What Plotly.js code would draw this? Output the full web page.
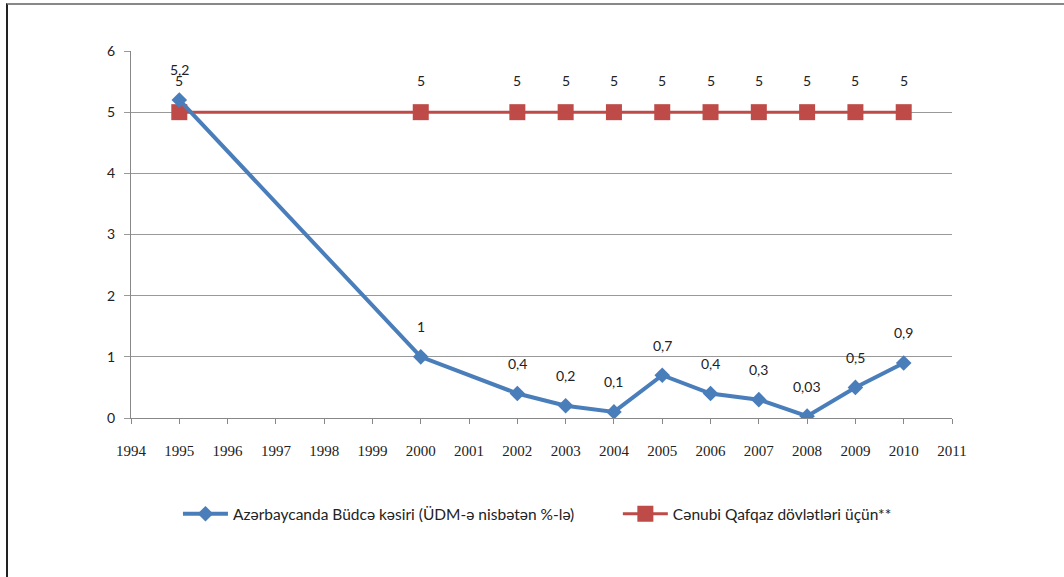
<!DOCTYPE html>
<html>
<head>
<meta charset="utf-8">
<script src="https://cdn.plot.ly/plotly-3.0.1.min.js"></script>
<style>
html,body{margin:0;padding:0;background:#fff;}
#wrap{position:relative;width:1064px;height:577px;}
#chart{width:1064px;height:577px;}
#frame{position:absolute;left:6px;top:3px;right:0;bottom:0;border-left:2px solid #222;border-top:2px solid #888;pointer-events:none;}
</style>
</head>
<body>
<div id="wrap"><div id="chart"></div><div id="frame"></div></div>
<script>
var years = [1995, 2000, 2002, 2003, 2004, 2005, 2006, 2007, 2008, 2009, 2010];
var deficitAz = [5.2, 1, 0.4, 0.2, 0.1, 0.7, 0.4, 0.3, 0.03, 0.5, 0.9];
var deficitAzLabels = ["5,2", "1", "0,4", "0,2", "0,1", "0,7", "0,4", "0,3", "0,03", "0,5", "0,9"];
var southCaucasus = [5, 5, 5, 5, 5, 5, 5, 5, 5, 5, 5];
var southCaucasusLabels = ["5", "5", "5", "5", "5", "5", "5", "5", "5", "5", "5"];
var xTicks = [1994, 1995, 1996, 1997, 1998, 1999, 2000, 2001, 2002, 2003, 2004, 2005, 2006, 2007, 2008, 2009, 2010, 2011];
var yTicks = [0, 1, 2, 3, 4, 5, 6];
var seriesNames = ["Azərbaycanda Büdcə kəsiri (ÜDM-ə nisbətən %-lə)", "Cənubi Qafqaz dövlətləri üçün**"];

var blue = '#4a7ebb', red = '#be4b48';

var traces = [
  {x: years, y: southCaucasus, name: seriesNames[1], type: 'scatter', mode: 'lines+markers', legend: 'legend2',
   line: {color: red, width: 3}, marker: {symbol: 'square', size: 16, color: red}},
  {x: years, y: deficitAz, name: seriesNames[0], type: 'scatter', mode: 'lines+markers', legend: 'legend',
   line: {color: blue, width: 4}, marker: {symbol: 'diamond', size: 12, color: blue}}
];

var annotations = [];
function addLabels(xs, ys, labels, shift) {
  for (var i = 0; i < xs.length; i++) {
    annotations.push({x: xs[i], y: ys[i], text: labels[i], showarrow: false, yshift: shift,
      font: {family: 'Lato, sans-serif', size: 14, color: '#222'}});
  }
}
addLabels(years, deficitAz, deficitAzLabels, 30);
addLabels(years, southCaucasus, southCaucasusLabels, 32);

var legendFont = {family: 'Lato, sans-serif', size: 15.5, color: '#222'};
var layout = {
  width: 1064, height: 577,
  margin: {l: 131, r: 112, t: 51, b: 159},
  paper_bgcolor: '#fff', plot_bgcolor: '#fff',
  showlegend: true,
  legend: {orientation: 'h', x: 0.0572, xanchor: 'left', y: -0.262, yanchor: 'middle',
    itemwidth: 45, font: legendFont},
  legend2: {orientation: 'h', x: 0.593, xanchor: 'left', y: -0.262, yanchor: 'middle',
    itemwidth: 45, font: legendFont},
  xaxis: {range: [1994, 2011], tickvals: xTicks, ticktext: xTicks.map(String),
    showgrid: false, zeroline: false, showline: true, linecolor: '#888', linewidth: 1,
    ticks: 'outside', ticklen: 5, tickcolor: '#888', ticklabelstandoff: 14,
    tickfont: {family: 'Liberation Serif, serif', size: 15, color: '#222'}},
  yaxis: {range: [0, 6], tickvals: yTicks, showgrid: true, gridcolor: '#999', gridwidth: 1,
    zeroline: false, showline: true, linecolor: '#888', linewidth: 1,
    ticks: 'outside', ticklen: 6, tickcolor: '#999', ticklabelstandoff: 6,
    tickfont: {family: 'Lato, sans-serif', size: 14, color: '#222'}},
  annotations: annotations
};

Plotly.newPlot('chart', traces, layout, {displayModeBar: false, staticPlot: true});
</script>
</body>
</html>
